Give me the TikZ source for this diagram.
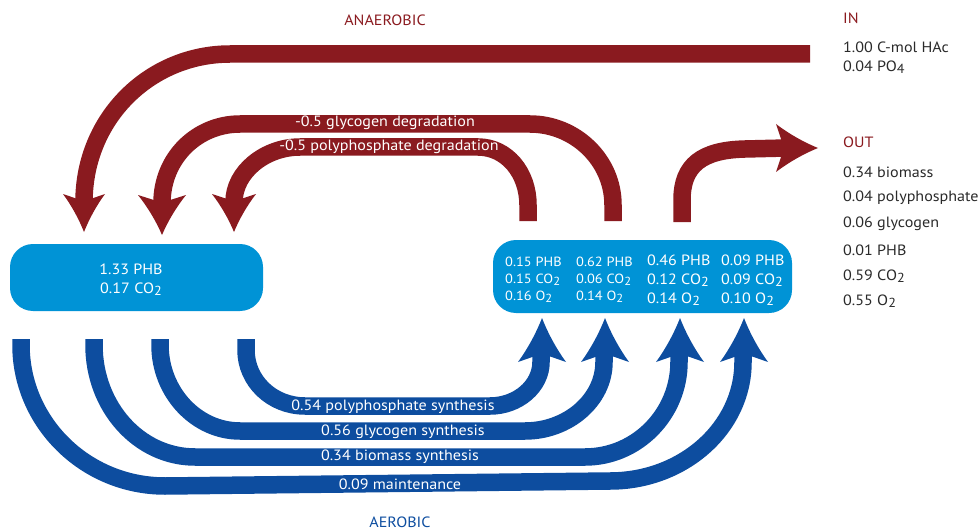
\documentclass[tikz,border=0pt]{standalone}
\usepackage{fontspec}
\setmainfont{PT Sans}[FakeStretch=1.08]
\usepackage{graphicx}
\definecolor{myred}{HTML}{8A1A1F}
\definecolor{myblue}{HTML}{0D4D9F}
\definecolor{boxblue}{HTML}{0093D6}
\definecolor{txt}{HTML}{2A2A2A}
\newcommand\lsub[1]{\raisebox{-0.32ex}{\scalebox{0.88}{#1}}}
% arrow head: tip, angle, colour, length, half width
\newcommand\ahead[5]{%
  \fill[#3, shift={#1}, rotate=#2] (0,0)
    .. controls ({-0.35*#4},{0.25*#5}) and ({-0.7*#4},{0.6*#5}) .. ({-#4},{#5})
    -- ({-0.88*#4},{0.37*#5}) -- ({-0.88*#4},{-0.37*#5}) -- ({-#4},{-#5})
    .. controls ({-0.7*#4},{-0.6*#5}) and ({-0.35*#4},{-0.25*#5}) .. cycle;}
\begin{document}
\begin{tikzpicture}[x=1pt,y=-1pt,
  redband/.style={draw=myred, line width=17.5pt},
  blueband/.style={draw=myblue, line width=17.5pt},
  fbox/.style={fill=boxblue, inner sep=0pt, rounded corners=23pt},
  wlabel/.style={text=white, font=\fontsize{14.9}{17}\selectfont, inner sep=0pt},
  boxtxt/.style={text=white, align=left, inner sep=0pt, anchor=west},
  sidetxt/.style={text=txt, anchor=west, inner sep=0pt, font=\fontsize{14.9}{17}\selectfont},
  headtxt/.style={text=myred, anchor=west, inner sep=0pt, font=\fontsize{14.9}{17}\selectfont}]
\useasboundingbox (0,0) rectangle (980,532);

% boxes
\node[fbox, minimum width=253pt, minimum height=67pt] (lbox) at (136.5,277.5) {};
\node[fbox, minimum width=299pt, minimum height=73pt] (rbox) at (642.5,276.5) {};

\node[text=white, align=center, inner sep=0pt, font=\fontsize{14.9}{19}\selectfont] (ltxt) at (131,280) {1.33 PHB\\0.17 CO\lsub{2}};
\node[boxtxt, font=\fontsize{13.3}{17}\selectfont] (c1) at (505,280) {0.15 PHB\\0.15 CO\lsub{2}\\0.16 O\lsub{2}};
\node[boxtxt, font=\fontsize{13.3}{17}\selectfont] (c2) at (576,280) {0.62 PHB\\0.06 CO\lsub{2}\\0.14 O\lsub{2}};
\node[boxtxt, font=\fontsize{14.9}{19}\selectfont] (c3) at (647,280) {0.46 PHB\\0.12 CO\lsub{2}\\0.14 O\lsub{2}};
\node[boxtxt, font=\fontsize{14.9}{19}\selectfont] (c4) at (721,280) {0.09 PHB\\0.09 CO\lsub{2}\\0.10 O\lsub{2}};

% anaerobic (red) flows
\coordinate (inA) at (810,54);
\draw[redband] (inA) -- (230,54) .. controls (150,54) and (84,118) .. (84,202);
\ahead{(84,232)}{-90}{myred}{38}{21}

\coordinate (gS) at (613,221);
\draw[redband] (gS) -- (613,205) .. controls (613,160) and (575,124) .. (530,124) -- (240,124) .. controls (197,124) and (162,158) .. (162,203);
\ahead{(162,235)}{-90}{myred}{40}{24}

\coordinate (pS) at (528,221);
\draw[redband] (pS) -- (528,205) .. controls (528,173) and (507,147) .. (478,147) -- (300,147) .. controls (265,147) and (234,172) .. (234,202);
\ahead{(234,232)}{-90}{myred}{38}{22}

\coordinate (oS) at (682,222);
\draw[redband] (oS) -- (682,200) .. controls (682,165) and (702,150) .. (745,149) -- (786,148);
\ahead{(818,148)}{0}{myred}{42}{24}

\node[wlabel] (lg) at (385,123) {-0.5 glycogen degradation};
\node[wlabel] (lp) at (389,147) {-0.5 polyphosphate degradation};

% aerobic (blue) flows
\draw[blueband] (246,339) -- (246,350) .. controls (246,381) and (272,406) .. (305,406) -- (490,406) .. controls (518,406) and (541,386) .. (541,362) -- (541,353);
\ahead{(542,318)}{90}{myblue}{44}{24}

\draw[blueband] (160,339) -- (160,345) .. controls (160,392) and (196,431) .. (240,431) -- (525,431) .. controls (568,431) and (604,400) .. (604,362) -- (604,353);
\ahead{(605,318)}{90}{myblue}{44}{24}

\draw[blueband] (94,339) -- (94,345) .. controls (94,407) and (139,457) .. (195,457) -- (585,457) .. controls (637,457) and (679,414) .. (679,362) -- (679,353);
\ahead{(680,318)}{90}{myblue}{44}{24}

\draw[blueband] (21,339) -- (21,345) .. controls (21,422) and (85,486) .. (165,486) -- (610,481) .. controls (683,481) and (743,428) .. (743,362) -- (743,353);
\ahead{(744,318)}{90}{myblue}{44}{24}

\node[wlabel] (b4) at (393,407) {0.54 polyphosphate synthesis};
\node[wlabel] (b3) at (403,432) {0.56 glycogen synthesis};
\node[wlabel] (b2) at (400,457) {0.34 biomass synthesis};
\node[wlabel] (b1) at (400,484) {0.09 maintenance};

% titles
\node[text=myred, inner sep=0pt, font=\fontsize{14.9}{17}\selectfont] (anae) at (385,20) {ANAEROBIC};
\node[text=myblue, inner sep=0pt, font=\fontsize{14.9}{17}\selectfont] (aero) at (400,522) {AEROBIC};

% side lists
\node[headtxt] (in) at (843,18) {IN};
\node[sidetxt] (i1) at (843,47) {1.00 C-mol HAc};
\node[sidetxt] (i2) at (843,67) {0.04 PO\lsub{4}};
\node[headtxt] (out) at (843,142) {OUT};
\node[sidetxt] (o1) at (843,172) {0.34 biomass};
\node[sidetxt] (o2) at (843,198) {0.04 polyphosphate};
\node[sidetxt] (o3) at (843,224) {0.06 glycogen};
\node[sidetxt] (o4) at (843,250) {0.01 PHB};
\node[sidetxt] (o5) at (843,276) {0.59 CO\lsub{2}};
\node[sidetxt] (o6) at (843,301) {0.55 O\lsub{2}};
\end{tikzpicture}
\end{document}
